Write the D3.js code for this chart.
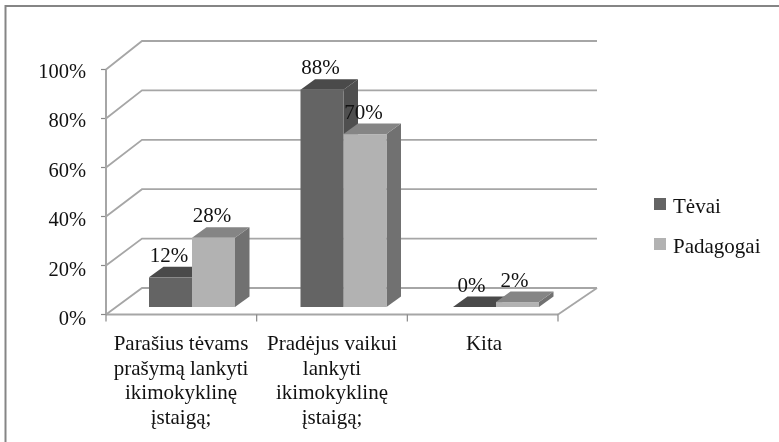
<!DOCTYPE html>
<html><head><meta charset="utf-8">
<style>html,body{margin:0;padding:0;background:#fff}svg{display:block;filter:blur(0.55px)}text{font-family:"Liberation Serif",serif;fill:#111}</style>
<script src="https://cdn.jsdelivr.net/npm/d3@7"></script></head><body>
<div id="c"></div>
<script>
const categories=[["Parašius tėvams","prašymą lankyti","ikimokyklinę","įstaigą;"],["Pradėjus vaikui","lankyti","ikimokyklinę","įstaigą;"],["Kita"]];
const seriesNames=["Tėvai","Padagogai"];
const tevai=[12,88,0];
const padagogai=[28,70,2];
const yTicks=[0,20,40,60,80,100];
const W=779,H=442,fs=21;
const svg=d3.select("#c").append("svg").attr("width",W).attr("height",H);
svg.append("path").attr("d",d3.line()([[5.5,H+2],[5.5,6],[W+2,6]])).attr("fill","none").attr("stroke","#858585").attr("stroke-width",2);
const y=d3.scaleLinear().domain([0,100]).range([314.5,69.5]);
const yBack=d3.scaleLinear().domain([0,100]).range([288,41]);
const yLab=d3.scaleLinear().domain([0,100]).range([325,78]);
const yBar=d3.scaleLinear().domain([0,100]).range([307,60]);
const x=d3.scaleBand().domain([0,1,2]).range([106,558]);
const inner=d3.scaleBand().domain([0,1]).range([0,86]);
const wallDx=36,rightEnd=597,grid="#a6a6a6";
yTicks.forEach(t=>{
  svg.append("path").attr("d",d3.line()([[106,y(t)],[106+wallDx,yBack(t)],[rightEnd,yBack(t)]])).attr("fill","none").attr("stroke",grid).attr("stroke-width",1.8);
  svg.append("line").attr("x1",101).attr("x2",106).attr("y1",y(t)).attr("y2",y(t)).attr("stroke","#888").attr("stroke-width",1.2);
  svg.append("text").attr("x",86).attr("y",yLab(t)).attr("text-anchor","end").attr("font-size",20.5).text(t+"%");
});
svg.append("line").attr("x1",106).attr("x2",106).attr("y1",y(100)).attr("y2",y(0)).attr("stroke",grid).attr("stroke-width",2);
svg.append("line").attr("x1",106).attr("x2",558).attr("y1",y(0)).attr("y2",y(0)).attr("stroke",grid).attr("stroke-width",2);
svg.append("line").attr("x1",558).attr("x2",rightEnd).attr("y1",y(0)).attr("y2",yBack(0)).attr("stroke",grid).attr("stroke-width",1.8);
[0,1,2,3].forEach(i=>svg.append("line").attr("x1",106+i*x.bandwidth()).attr("x2",106+i*x.bandwidth()).attr("y1",y(0)).attr("y2",y(0)+7).attr("stroke","#888").attr("stroke-width",1.2));
const dx=14.5,dy=10.5;
const pal=[{f:"#646464",t:"#4a4a4a",s:"#4f4f4f"},{f:"#b2b2b2",t:"#858585",s:"#717171"}];
const left=[149,300.5,453];
const bars=(s,vals)=>vals.forEach((v,i)=>{
  const x0=left[i]+inner(s),w=inner.bandwidth(),c=pal[s],b=yBar(0),top=yBar(v);
  svg.append("polygon").attr("points",[[x0+w,b],[x0+w+dx,b-dy],[x0+w+dx,top-dy],[x0+w,top]].join(" ")).attr("fill",c.s);
  svg.append("polygon").attr("points",[[x0,top],[x0+dx,top-dy],[x0+w+dx,top-dy],[x0+w,top]].join(" ")).attr("fill",c.t);
  svg.append("rect").attr("x",x0).attr("y",top).attr("width",w).attr("height",b-top).attr("fill",c.f);
});
bars(0,tevai);bars(1,padagogai);
const lab=(s,vals)=>vals.forEach((v,i)=>{
  const cx=left[i]+inner(s)+inner.bandwidth()/2-(i===2?3:1.5);
  svg.append("text").attr("x",cx).attr("y",yBar(v)-(i===2?15:15.5)).attr("text-anchor","middle").attr("font-size",fs).text(v+"%");
});
lab(0,tevai);lab(1,padagogai);
categories.forEach((lines,i)=>{
  const cx=[181,332,484][i];
  lines.forEach((l,j)=>svg.append("text").attr("x",cx).attr("y",350+j*24.7).attr("text-anchor","middle").attr("font-size",fs).text(l));
});
seriesNames.forEach((n,i)=>{
  svg.append("rect").attr("x",654).attr("y",198+i*40).attr("width",12).attr("height",12).attr("fill",pal[i].f);
  svg.append("text").attr("x",673).attr("y",213+i*40).attr("font-size",fs).text(n);
});
</script></body></html>
